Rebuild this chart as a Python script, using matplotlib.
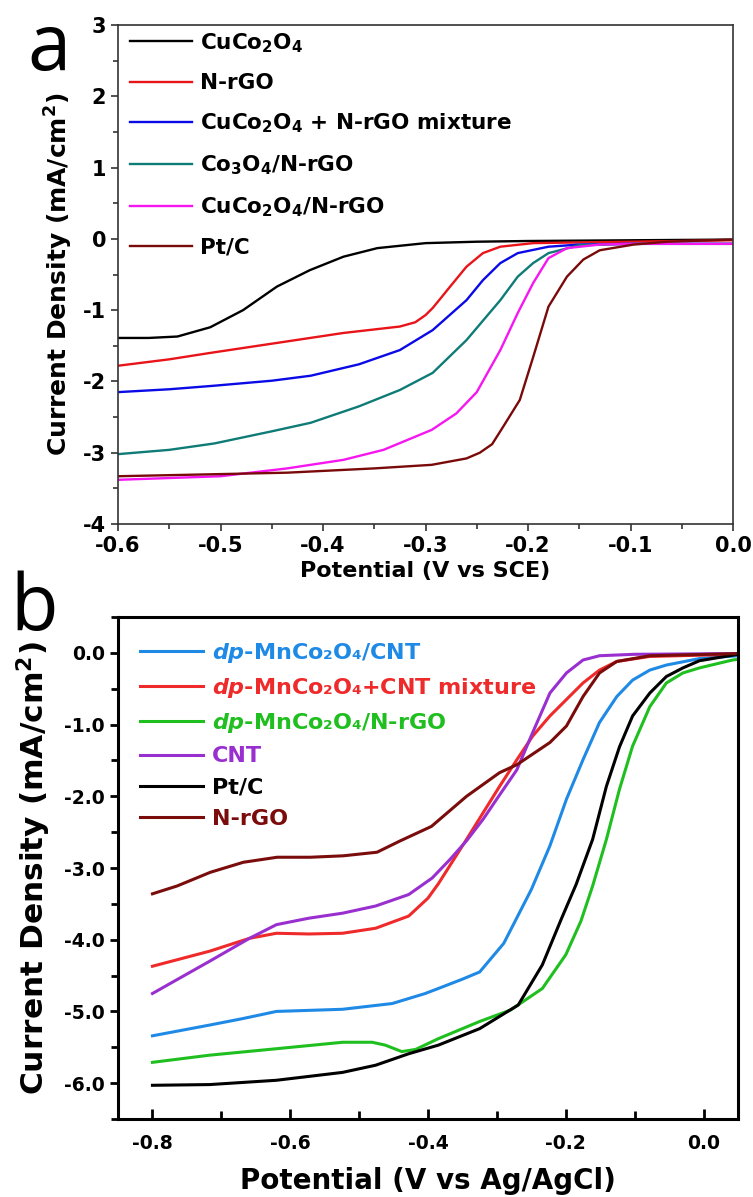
import matplotlib
matplotlib.use("Agg")
import matplotlib.pyplot as plt
from matplotlib.ticker import MultipleLocator, FormatStrFormatter

plt.rcParams['font.family'] = ['DejaVu Sans']
plt.rcParams['font.weight'] = 'bold'
plt.rcParams['axes.unicode_minus'] = False
plt.rcParams['mathtext.fontset'] = 'custom'
plt.rcParams['mathtext.rm'] = 'DejaVu Sans:bold'
plt.rcParams['mathtext.it'] = 'DejaVu Sans:italic:bold'
plt.rcParams['mathtext.bf'] = 'DejaVu Sans:bold'

# ---------------- Panel a data ----------------
a_labels = ["CuCo$_2$O$_4$", "N-rGO", "CuCo$_2$O$_4$ + N-rGO mixture",
            "Co$_3$O$_4$/N-rGO", "CuCo$_2$O$_4$/N-rGO", "Pt/C"]
a_colors = ["#000000", "#e8141a", "#0a0ae6", "#0f7b76", "#f516f0", "#7a0a0a"]

a_x_cuco = [-0.6, -0.57, -0.542, -0.51, -0.478, -0.445, -0.413, -0.38, -0.347, -0.30, -0.25, -0.2, -0.1, 0.0]
a_y_cuco = [-1.39, -1.39, -1.37, -1.24, -1.0, -0.67, -0.44, -0.25, -0.13, -0.06, -0.04, -0.03, -0.02, -0.01]

a_x_nrgo = [-0.6, -0.55, -0.51, -0.445, -0.38, -0.325, -0.31, -0.30, -0.293, -0.285, -0.276, -0.26, -0.244, -0.227, -0.195, -0.15, -0.1, 0.0]
a_y_nrgo = [-1.78, -1.69, -1.60, -1.46, -1.32, -1.23, -1.17, -1.07, -0.97, -0.83, -0.67, -0.39, -0.20, -0.11, -0.06, -0.05, -0.04, -0.02]

a_x_mix = [-0.6, -0.55, -0.506, -0.45, -0.412, -0.365, -0.325, -0.293, -0.26, -0.244, -0.227, -0.21, -0.18, -0.15, -0.1, 0.0]
a_y_mix = [-2.15, -2.11, -2.06, -1.99, -1.92, -1.76, -1.56, -1.28, -0.86, -0.58, -0.34, -0.20, -0.11, -0.08, -0.07, -0.07]

a_x_co3 = [-0.6, -0.55, -0.506, -0.45, -0.412, -0.365, -0.325, -0.293, -0.26, -0.227, -0.21, -0.195, -0.18, -0.15, -0.1, 0.0]
a_y_co3 = [-3.02, -2.96, -2.87, -2.70, -2.58, -2.35, -2.12, -1.88, -1.42, -0.86, -0.53, -0.34, -0.20, -0.09, -0.07, -0.07]

a_x_cucon = [-0.6, -0.5, -0.435, -0.38, -0.341, -0.294, -0.27, -0.25, -0.227, -0.21, -0.195, -0.18, -0.162, -0.13, -0.1, 0.0]
a_y_cucon = [-3.38, -3.33, -3.22, -3.10, -2.96, -2.68, -2.45, -2.15, -1.56, -1.04, -0.62, -0.27, -0.13, -0.08, -0.07, -0.07]

a_x_pt = [-0.6, -0.5, -0.435, -0.35, -0.294, -0.26, -0.247, -0.235, -0.224, -0.208, -0.195, -0.18, -0.162, -0.146, -0.13, -0.097, -0.064, 0.0]
a_y_pt = [-3.33, -3.30, -3.28, -3.22, -3.17, -3.08, -3.0, -2.88, -2.63, -2.26, -1.66, -0.95, -0.53, -0.29, -0.16, -0.08, -0.04, -0.01]

a_xs = [a_x_cuco, a_x_nrgo, a_x_mix, a_x_co3, a_x_cucon, a_x_pt]
a_ys = [a_y_cuco, a_y_nrgo, a_y_mix, a_y_co3, a_y_cucon, a_y_pt]

a_xticks = [-0.6, -0.5, -0.4, -0.3, -0.2, -0.1, 0.0]
a_yticks = [3, 2, 1, 0, -1, -2, -3, -4]

# ---------------- Panel b data ----------------
b_labels = [r"$\mathit{dp}$-MnCo₂O₄/CNT", r"$\mathit{dp}$-MnCo₂O₄+CNT mixture",
            r"$\mathit{dp}$-MnCo₂O₄/N-rGO", "CNT", "Pt/C", "N-rGO"]
b_colors = ["#1f8ae6", "#ef2a2a", "#1fbf1f", "#9a2fd0", "#000000", "#7a0c0c"]

b_x_cnt = [-0.8, -0.717, -0.669, -0.62, -0.524, -0.452, -0.404, -0.385, -0.35, -0.325, -0.29, -0.25, -0.223, -0.199, -0.175, -0.151, -0.126, -0.103, -0.078, -0.054, -0.006, 0.05]
b_y_cnt = [-5.34, -5.19, -5.10, -5.00, -4.97, -4.89, -4.75, -4.68, -4.55, -4.45, -4.05, -3.30, -2.69, -2.04, -1.49, -0.97, -0.61, -0.38, -0.24, -0.17, -0.08, -0.04]

b_x_mix = [-0.8, -0.717, -0.659, -0.62, -0.573, -0.524, -0.476, -0.428, -0.4, -0.385, -0.344, -0.296, -0.271, -0.248, -0.223, -0.199, -0.175, -0.151, -0.126, -0.078, 0.05]
b_y_mix = [-4.37, -4.16, -3.98, -3.91, -3.92, -3.91, -3.84, -3.67, -3.42, -3.22, -2.60, -1.86, -1.49, -1.16, -0.88, -0.65, -0.42, -0.24, -0.12, -0.05, -0.02]

b_x_nrgo_comp = [-0.8, -0.717, -0.62, -0.524, -0.481, -0.462, -0.438, -0.418, -0.385, -0.325, -0.28, -0.234, -0.2, -0.178, -0.161, -0.141, -0.122, -0.103, -0.078, -0.054, -0.03, -0.006, 0.042, 0.05]
b_y_nrgo_comp = [-5.71, -5.61, -5.52, -5.43, -5.43, -5.47, -5.56, -5.53, -5.38, -5.14, -4.98, -4.68, -4.21, -3.74, -3.25, -2.60, -1.90, -1.30, -0.75, -0.42, -0.28, -0.21, -0.10, -0.09]

b_x_cntonly = [-0.8, -0.717, -0.659, -0.62, -0.573, -0.524, -0.476, -0.428, -0.394, -0.368, -0.344, -0.32, -0.296, -0.271, -0.248, -0.223, -0.199, -0.175, -0.151, -0.1, 0.05]
b_y_cntonly = [-4.75, -4.30, -3.98, -3.79, -3.70, -3.63, -3.53, -3.37, -3.14, -2.88, -2.62, -2.32, -1.98, -1.63, -1.11, -0.56, -0.28, -0.10, -0.04, -0.02, -0.01]

b_x_pt = [-0.8, -0.717, -0.62, -0.524, -0.476, -0.428, -0.385, -0.325, -0.269, -0.234, -0.206, -0.185, -0.161, -0.141, -0.122, -0.103, -0.078, -0.054, -0.030, -0.006, 0.05]
b_y_pt = [-6.03, -6.02, -5.96, -5.85, -5.75, -5.59, -5.47, -5.24, -4.91, -4.35, -3.70, -3.23, -2.60, -1.86, -1.31, -0.88, -0.56, -0.33, -0.21, -0.11, -0.02]

b_x_nrgo = [-0.8, -0.764, -0.716, -0.668, -0.619, -0.571, -0.523, -0.474, -0.44, -0.395, -0.344, -0.296, -0.271, -0.223, -0.199, -0.175, -0.151, -0.126, -0.078, 0.05]
b_y_nrgo = [-3.36, -3.25, -3.06, -2.92, -2.85, -2.85, -2.83, -2.78, -2.62, -2.42, -2.00, -1.67, -1.56, -1.25, -1.02, -0.61, -0.28, -0.12, -0.04, -0.01]

b_xs = [b_x_cnt, b_x_mix, b_x_nrgo_comp, b_x_cntonly, b_x_pt, b_x_nrgo]
b_ys = [b_y_cnt, b_y_mix, b_y_nrgo_comp, b_y_cntonly, b_y_pt, b_y_nrgo]

b_xticks = [-0.8, -0.6, -0.4, -0.2, 0.0]
b_yticks = [0, -1, -2, -3, -4, -5, -6]

W, H = 753, 1197
fig = plt.figure(figsize=(W / 100, H / 100), dpi=100)

# ---------------- Panel a ----------------
ax = fig.add_axes([118 / W, 1 - 524 / H, (733 - 118) / W, (524 - 25) / H])
for xs, ys, c, lab in zip(a_xs, a_ys, a_colors, a_labels):
    ax.plot(xs, ys, color=c, lw=1.7, label=lab)
ax.set_xlim(-0.6, 0.0)
ax.set_ylim(-4, 3)
ax.set_xticks(a_xticks)
ax.set_yticks(a_yticks)
ax.xaxis.set_major_formatter(FormatStrFormatter('%.1f'))
ax.xaxis.set_minor_locator(MultipleLocator(0.05))
ax.yaxis.set_minor_locator(MultipleLocator(0.5))
ax.tick_params(which='both', direction='out', top=False, right=False, width=1.2,
               labelsize=15, color='#333333')
ax.tick_params(which='major', length=5)
ax.tick_params(which='minor', length=3.5)
for s in ax.spines.values():
    s.set_linewidth(1.2)
    s.set_color('#333333')
ax.set_xlabel("Potential (V vs SCE)", fontsize=16, fontweight='bold', labelpad=4)
ax.set_ylabel("Current Density (mA/cm$^2$)", fontsize=18, fontweight='bold', labelpad=6)
leg = ax.legend(loc='upper left', bbox_to_anchor=(130 / W, 1 - 31 / H),
                bbox_transform=fig.transFigure, frameon=False, fontsize=15.5,
                handlelength=2.9, handletextpad=0.35, labelspacing=0.86,
                borderpad=0, borderaxespad=0)
fig.text(27 / W, 1 - 70 / H, "a", fontsize=56, fontweight='normal',
         family='Open Sans', ha='left', va='baseline')

# ---------------- Panel b ----------------
bx = fig.add_axes([118 / W, 1 - 1119 / H, (738 - 118) / W, (1119 - 617) / H])
for xs, ys, c, lab in zip(b_xs, b_ys, b_colors, b_labels):
    bx.plot(xs, ys, color=c, lw=2.2, label=lab)
bx.set_xlim(-0.85, 0.05)
bx.set_ylim(-6.5, 0.5)
bx.set_xticks(b_xticks)
bx.set_yticks(b_yticks)
bx.xaxis.set_major_formatter(FormatStrFormatter('%.1f'))
bx.yaxis.set_major_formatter(FormatStrFormatter('%.1f'))
bx.xaxis.set_minor_locator(MultipleLocator(0.1))
bx.yaxis.set_minor_locator(MultipleLocator(0.5))
bx.tick_params(axis='y', which='both', direction='out', width=2, labelsize=13.5)
bx.tick_params(axis='x', which='both', direction='in', width=2, labelsize=13.5, pad=11)
bx.tick_params(axis='y', which='major', length=6)
bx.tick_params(axis='y', which='minor', length=5)
bx.tick_params(axis='x', which='major', length=7)
bx.tick_params(axis='x', which='minor', length=6)
bx.tick_params(top=False, right=False)
for s in bx.spines.values():
    s.set_linewidth(2.2)
bx.set_xlabel("Potential (V vs Ag/AgCl)", fontsize=20, fontweight='bold', labelpad=10)
bx.set_ylabel("Current Density (mA/cm$^2$)", fontsize=22.5, fontweight='bold', labelpad=8)
legb = bx.legend(loc='upper left', bbox_to_anchor=(140 / W, 1 - 641 / H),
                 bbox_transform=fig.transFigure, frameon=False, fontsize=16,
                 handlelength=2.85, handletextpad=0.4, labelspacing=0.5,
                 borderpad=0, borderaxespad=0, labelcolor='linecolor')
fig.text(10 / W, 1 - 630 / H, "b", fontsize=56, fontweight='normal',
         family='Open Sans', ha='left', va='baseline')

fig.savefig("out.png", dpi=100)
